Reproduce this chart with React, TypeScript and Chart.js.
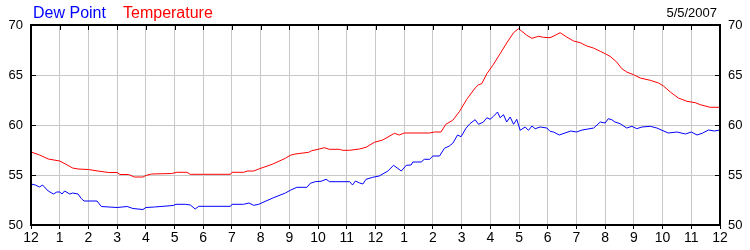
import React, { useEffect, useRef } from "react";
import { Chart, registerables } from "chart.js";

Chart.register(...registerables);

const hourLabels = [
  "12", "1", "2", "3", "4", "5", "6", "7", "8", "9", "10", "11",
  "12", "1", "2", "3", "4", "5", "6", "7", "8", "9", "10", "11", "12",
];

const legendNames = ["Dew Point", "Temperature"];
const dateLabel = "5/5/2007";

const tempHours = [
  0, 0.3, 0.6, 1.0, 1.2, 1.45, 1.64, 2.0, 2.33, 2.7, 3.0, 3.1, 3.4, 3.6, 3.9, 4.0, 4.2, 4.9,
  5.08, 5.43, 5.55, 6.95, 7.0, 7.41, 7.53, 7.76, 7.93, 8.4, 8.86, 9.03, 9.2, 9.67, 9.78,
  10.0, 10.22, 10.39, 10.74, 10.86, 11.09, 11.44, 11.67, 11.96, 12.25, 12.66, 12.83, 13.0,
  13.88, 14.05, 14.28, 14.45, 14.69, 14.92, 15.18, 15.47, 15.59, 15.7, 15.88, 16.11, 16.34,
  16.57, 16.81, 16.98, 17.1, 17.27, 17.45, 17.68, 17.85, 18.08, 18.26, 18.43, 18.66, 18.9,
  19.13, 19.36, 19.59, 19.83, 20.0, 20.17, 20.4, 20.58, 20.75, 20.99, 21.22, 21.57, 21.86,
  22.03, 22.27, 22.55, 22.85, 23.14, 23.31, 23.66, 24.0,
];
const tempValues = [
  57.3, 57.0, 56.6, 56.4, 56.1, 55.7, 55.6, 55.55, 55.4, 55.25, 55.25, 55.05, 55.05, 54.8, 54.8, 54.95, 55.1, 55.15,
  55.27, 55.27, 55.07, 55.07, 55.27, 55.27, 55.4, 55.4, 55.6, 56.07, 56.67, 56.97, 57.1, 57.27, 57.43,
  57.57, 57.73, 57.57, 57.57, 57.47, 57.47, 57.6, 57.77, 58.27, 58.5, 59.17, 59.0, 59.2,
  59.2, 59.3, 59.3, 60.07, 60.47, 61.33, 62.57, 63.7, 64.03, 64.13, 65.13, 66.07, 67.13,
  68.2, 69.23, 69.63, 69.37, 68.97, 68.67, 68.87, 68.77, 68.73, 68.97, 69.23, 68.8, 68.4,
  68.23, 67.9, 67.7, 67.37, 67.13, 66.87, 66.3, 65.63, 65.3, 65.03, 64.7, 64.47, 64.2,
  63.9, 63.3, 62.7, 62.37, 62.23, 62.03, 61.77, 61.77,
];

const dewHours = [
  0, 0.15, 0.3, 0.4, 0.6, 0.78, 0.9, 1.0, 1.08, 1.17, 1.35, 1.45, 1.64, 1.75, 1.85, 2.3, 2.45,
  3.0, 3.35, 3.55, 3.9, 4.0, 4.3, 4.95, 5.05, 5.38, 5.55, 5.72, 5.84, 6.95, 7.0, 7.4, 7.59,
  7.76, 7.93, 8.4, 8.86, 9.03, 9.26, 9.61, 9.73, 9.9, 10.1, 10.28, 10.4, 11.1, 11.2, 11.3,
  11.45, 11.56, 11.67, 11.9, 12.13, 12.43, 12.63, 12.9, 13.07, 13.24, 13.3, 13.59, 13.7,
  13.88, 14.0, 14.23, 14.4, 14.57, 14.69, 14.86, 14.98, 15.15, 15.29, 15.47, 15.59, 15.76,
  15.88, 15.99, 16.11, 16.25, 16.34, 16.46, 16.57, 16.69, 16.81, 16.92, 17.04, 17.21, 17.33,
  17.45, 17.56, 17.74, 17.97, 18.08, 18.2, 18.4, 18.6, 18.8, 19.0, 19.2, 19.4, 19.6, 19.83,
  20.0, 20.11, 20.23, 20.34, 20.52, 20.75, 20.93, 21.1, 21.28, 21.57, 21.8, 21.98, 22.2,
  22.5, 22.8, 23.0, 23.2, 23.4, 23.6, 23.8, 24.0,
];
const dewValues = [
  54.1, 54.0, 53.8, 54.0, 53.4, 53.1, 53.3, 53.3, 53.1, 53.4, 53.1, 53.2, 53.1, 52.65, 52.4, 52.4, 51.85,
  51.75, 51.85, 51.65, 51.55, 51.75, 51.8, 51.95, 52.07, 52.07, 52.0, 51.6, 51.87, 51.87, 52.07, 52.07, 52.2,
  51.97, 52.07, 52.67, 53.2, 53.47, 53.77, 53.77, 54.17, 54.33, 54.37, 54.57, 54.33, 54.33, 54.0, 54.4,
  54.2, 54.1, 54.57, 54.77, 54.9, 55.4, 55.97, 55.4, 55.97, 56.0, 56.3, 56.3, 56.57,
  56.57, 56.9, 56.9, 57.67, 57.9, 58.17, 59.0, 58.83, 59.67, 60.13, 60.53, 60.07, 60.3,
  60.73, 60.57, 60.87, 61.3, 60.73, 61.03, 60.3, 60.8, 60.07, 60.57, 59.47, 59.8, 59.47,
  59.9, 59.63, 59.8, 59.7, 59.37, 59.3, 59.0, 59.2, 59.4, 59.3, 59.5, 59.6, 59.7, 60.3,
  60.2, 60.63, 60.53, 60.3, 60.13, 59.7, 59.87, 59.63, 59.8, 59.87, 59.7, 59.47, 59.2,
  59.3, 59.1, 59.3, 59.0, 59.2, 59.5, 59.4, 59.5,
];

const yMin = 50;
const yMax = 70;
const yStep = 5;

const FONT = "'Liberation Sans', Arial, sans-serif";
const GRID = "#c8c8c8";
const BLUE = "#0000ff";
const RED = "#ff0000";

const framePlugin = {
  id: "frame",
  afterDraw(chart: any) {
    const { ctx, chartArea } = chart;
    const { left, right, top, bottom } = chartArea;
    const xs = chart.scales.x;
    const ys = chart.scales.y;
    ctx.save();
    ctx.strokeStyle = "#000";
    ctx.lineWidth = 1;
    ctx.beginPath();
    for (let h = 1; h < hourLabels.length - 1; h++) {
      const px = Math.round(xs.getPixelForValue(h)) + 0.5;
      ctx.moveTo(px, top);
      ctx.lineTo(px, top + 5);
    }
    for (let v = yMin + yStep; v < yMax; v += yStep) {
      const py = Math.round(ys.getPixelForValue(v)) + 0.5;
      ctx.moveTo(left, py);
      ctx.lineTo(left + 5, py);
      ctx.moveTo(right, py);
      ctx.lineTo(right - 5, py);
    }
    ctx.stroke();
    ctx.lineWidth = 2;
    ctx.strokeRect(left, top, right - left, bottom - top);

    ctx.textBaseline = "alphabetic";
    ctx.font = `16px ${FONT}`;
    ctx.textAlign = "left";
    ctx.fillStyle = BLUE;
    ctx.fillText(legendNames[0], 33, 18);
    ctx.fillStyle = RED;
    ctx.fillText(legendNames[1], 123, 18);
    ctx.font = `13px ${FONT}`;
    ctx.fillStyle = "#000";
    ctx.textAlign = "right";
    ctx.fillText(dateLabel, 717, 17);
    ctx.restore();
  },
};

export default function App() {
  const ref = useRef<HTMLCanvasElement | null>(null);
  useEffect(() => {
    if (!ref.current) return;
    const chart = new Chart(ref.current, {
      type: "line",
      data: {
        datasets: [
          {
            label: legendNames[1],
            data: tempHours.map((h, i) => ({ x: h, y: tempValues[i] })),
            borderColor: RED,
            borderWidth: 1,
            pointRadius: 0,
            tension: 0,
            fill: false,
          },
          {
            label: legendNames[0],
            data: dewHours.map((h, i) => ({ x: h, y: dewValues[i] })),
            borderColor: BLUE,
            borderWidth: 1,
            pointRadius: 0,
            tension: 0,
            fill: false,
          },
        ],
      },
      options: {
        responsive: false,
        animation: false,
        devicePixelRatio: 1,
        layout: { padding: { top: 25, left: 0, right: 0, bottom: 0 } },
        plugins: { legend: { display: false }, tooltip: { enabled: false }, title: { display: false } },
        scales: {
          x: {
            type: "linear",
            min: 0,
            max: hourLabels.length - 1,
            afterFit: (s: any) => { s.height = 25; },
            ticks: {
              stepSize: 1,
              autoSkip: false,
              maxRotation: 0,
              padding: 1,
              color: "#000",
              font: { family: FONT, size: 14 },
              callback: (v: any) => hourLabels[Math.round(Number(v))],
            },
            grid: {
              color: (c: any) => {
                const v = c.tick ? c.tick.value : 0;
                return v === 0 || v === hourLabels.length - 1 ? "rgba(0,0,0,0)" : GRID;
              },
              tickColor: "#000",
              tickLength: 4,
              drawTicks: true,
              lineWidth: 1,
            },
            border: { display: false },
          },
          y: {
            type: "linear",
            position: "left",
            min: yMin,
            max: yMax,
            afterFit: (s: any) => { s.width = 31; },
            ticks: {
              stepSize: yStep,
              padding: 8,
              color: "#000",
              font: { family: FONT, size: 13 },
            },
            grid: {
              color: (c: any) => {
                const v = c.tick ? c.tick.value : yMin;
                return v === yMin || v === yMax ? "rgba(0,0,0,0)" : GRID;
              },
              drawTicks: false,
              lineWidth: 1,
            },
            border: { display: false },
          },
          y2: {
            type: "linear",
            position: "right",
            min: yMin,
            max: yMax,
            afterFit: (s: any) => { s.width = 30; },
            ticks: {
              stepSize: yStep,
              padding: 8,
              color: "#000",
              font: { family: FONT, size: 13 },
            },
            grid: { display: false, drawTicks: false },
            border: { display: false },
          },
        },
      },
      plugins: [framePlugin],
    } as any);
    return () => chart.destroy();
  }, []);
  return (
    <div style={{ position: "absolute", left: 0, top: 0, width: 750, height: 250, background: "#fff" }}>
      <canvas ref={ref} width={750} height={250} style={{ display: "block", width: 750, height: 250 }} />
    </div>
  );
}
